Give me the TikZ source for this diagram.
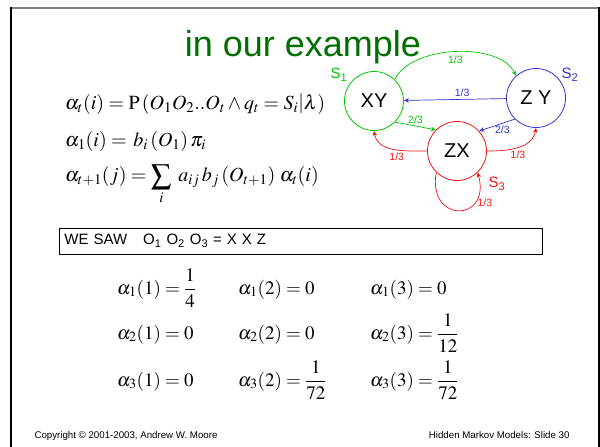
\documentclass[tikz,border=0pt]{standalone}
\usepackage{amsmath}
\usepackage{mathptmx}
\usepackage[no-math]{fontspec}
\setmainfont{Liberation Sans}
\usetikzlibrary{arrows.meta}

\definecolor{titlegreen}{RGB}{0,110,0}
\definecolor{sgreen}{RGB}{0,200,0}
\definecolor{sblue}{RGB}{51,51,204}
\definecolor{sred}{RGB}{240,20,20}

\newcommand{\bigsum}{\mathop{\raisebox{-3pt}{\scalebox{1.45}{$\sum$}}}\limits}

\tikzset{
  state/.style={circle, draw, minimum size=59pt, inner sep=0pt, line width=0.8pt,
                font=\fontsize{20}{22}\selectfont},
  prob/.style={font=\fontsize{10.5}{12}\selectfont, inner sep=1pt},
  trans/.style={-{Stealth[length=5pt,width=4.5pt]}, line width=0.7pt},
  eqn/.style={anchor=base west, inner sep=0pt, font=\fontsize{20}{24}\selectfont},
  cell/.style={anchor=base west, inner sep=0pt, font=\fontsize{19}{22}\selectfont},
}

\begin{document}
\begin{tikzpicture}[x=1pt, y=-1pt]
    \useasboundingbox (0,0) rectangle (600,447);

    % --- slide frame -------------------------------------------------------
    \draw[gray, line width=2pt] (10,7.5) -- (599,7.5);
    \draw[black, line width=2pt] (11,7) -- (11,447);
    \draw[black, line width=2pt] (598.5,7) -- (598.5,447);

    % --- title ---------------------------------------------------------------
    \node[anchor=base, text=titlegreen, font=\fontsize{36}{40}\selectfont]
      (title) at (303,56) {in our example};

    % --- forward variable ----------------------------------------------------
    \node[eqn] (eqa) at (65,109)
      {$\alpha_t(i) = \mathrm{P}\left(O_1O_2..O_t \wedge q_t = S_i \middle| \lambda\right)$};
    \node[eqn] (eqb) at (65,146)
      {$\alpha_1(i) = \,b_i\left(O_1\right)\pi_i$};
    \node[eqn] (eqc) at (65,181)
      {$\displaystyle \alpha_{t+1}(j) = \bigsum_i\; a_{ij}\,b_j\left(O_{t+1}\right)\,\alpha_t(i)$};

    % --- the three states ------------------------------------------------------
    \node[state, draw=sgreen] (xy) at (374,101) {XY};
    \node[state, draw=sblue]  (zy) at (536,98)  {Z Y};
    \node[state, draw=sred]   (zx) at (457,151) {ZX};

    \node[text=sgreen, font=\fontsize{15}{16}\selectfont] (s1) at (339,75) {S\textsubscript{1}};
    \node[text=sblue,  font=\fontsize{15}{16}\selectfont] (s2) at (570,75) {S\textsubscript{2}};
    \node[text=sred,   font=\fontsize{15}{16}\selectfont] (s3) at (497,184) {S\textsubscript{3}};

    % transitions out of S1
    \draw[trans, sgreen] (xy.46) to[out=65, in=115, looseness=0.8]
      node[prob, pos=0.5, below=3pt] {1/3} (zy.132);
    \draw[trans, sgreen] (xy.-45) -- node[prob, above=1pt] {2/3} (zx.135);
    % transitions out of S2
    \draw[trans, sblue] (zy) -- node[prob, pos=0.43, above=1pt] {1/3} (xy);
    \draw[trans, sblue] (zy.-135) -- node[prob, pos=0.35, below=1pt] {2/3} (zx.42);
    % transitions out of S3
    \draw[trans, sred] (zx.180) to[out=180, in=-80]
      node[prob, pos=0.45, below=2pt] {1/3} (xy.-90);
    \draw[trans, sred] (zx.0) to[out=0, in=-100]
      node[prob, pos=0.5, below=2pt] {1/3} (zy.-90);
    \draw[trans, sred] (zx.-134) .. controls +(100:52) and +(75:52) ..
      node[prob, pos=0.72, right=2pt] {1/3} (zx.-46);

    % --- observations ----------------------------------------------------------
    \node[draw, line width=0.8pt, anchor=west, minimum height=26pt, text width=473pt,
          inner xsep=5pt, font=\fontsize{15}{17}\selectfont]
      (saw) at (59,241)
      {WE SAW\hspace{16pt}O\textsubscript{1} O\textsubscript{2} O\textsubscript{3} = X X Z};

    % --- alpha values ------------------------------------------------------------
    \node[cell] (a11) at (117,294) {$\alpha_1(1) = \dfrac{1}{4}$};
    \node[cell] (a12) at (238,294) {$\alpha_1(2) = 0$};
    \node[cell] (a13) at (370,294) {$\alpha_1(3) = 0$};
    \node[cell] (a21) at (117,339) {$\alpha_2(1) = 0$};
    \node[cell] (a22) at (238,339) {$\alpha_2(2) = 0$};
    \node[cell] (a23) at (370,339) {$\alpha_2(3) = \dfrac{1}{12}$};
    \node[cell] (a31) at (117,386) {$\alpha_3(1) = 0$};
    \node[cell] (a32) at (238,386) {$\alpha_3(2) = \dfrac{1}{72}$};
    \node[cell] (a33) at (370,386) {$\alpha_3(3) = \dfrac{1}{72}$};

    % --- footer ------------------------------------------------------------------
    \node[anchor=base west, font=\fontsize{9.7}{11}\selectfont] (copy) at (31,438)
      {Copyright © 2001-2003, Andrew W. Moore};
    \node[anchor=base east, font=\fontsize{9.7}{11}\selectfont] (slide) at (573,438)
      {Hidden Markov Models: Slide 30};
\end{tikzpicture}
\end{document}
